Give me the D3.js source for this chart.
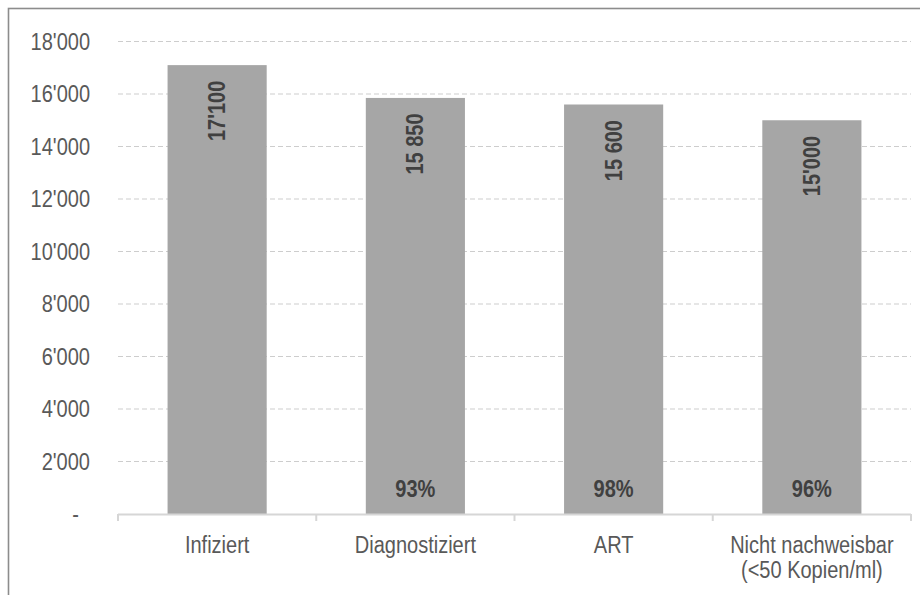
<!DOCTYPE html>
<html>
<head>
<meta charset="utf-8">
<script src="https://cdn.jsdelivr.net/npm/d3@7"></script>
<style>
  html, body { margin: 0; padding: 0; background: #ffffff; }
  svg { display: block; }
  text { font-family: "Liberation Sans", Arial, sans-serif; }
</style>
</head>
<body>
<svg id="chart" width="920" height="595"></svg>
<script>
// ---- data ----
const categories = ["Infiziert", "Diagnostiziert", "ART", "Nicht nachweisbar\n(<50 Kopien/ml)"];
const values = [17100, 15850, 15600, 15000];
const valueLabels = ["17'100", "15 850", "15 600", "15'000"];
const percentLabels = ["", "93%", "98%", "96%"];
const yTicks = [0, 2000, 4000, 6000, 8000, 10000, 12000, 14000, 16000, 18000];
const yTickLabels = ["-", "2'000", "4'000", "6'000", "8'000", "10'000", "12'000", "14'000", "16'000", "18'000"];

// ---- layout ----
const W = 920, H = 595;
const plot = { left: 118, right: 911, top: 41.5, bottom: 514 };
const SX = 0.87;        // horizontal condensing of the font
const FS = 23;

const svg = d3.select("#chart");

// frame (only top and left visible)
svg.append("rect")
  .attr("x", 8.5).attr("y", 8.5)
  .attr("width", W + 10).attr("height", H + 10)
  .attr("fill", "none")
  .attr("stroke", "#8c8c8c")
  .attr("stroke-width", 1.6);

const x = d3.scaleBand()
  .domain(categories)
  .range([plot.left, plot.right])
  .paddingInner(0.5)
  .paddingOuter(0.25);

const y = d3.scaleLinear()
  .domain([0, 18000])
  .range([plot.bottom, plot.top]);

// gridlines
svg.append("g")
  .selectAll("line")
  .data(yTicks.filter(d => d > 0))
  .join("line")
  .attr("x1", plot.left).attr("x2", plot.right)
  .attr("y1", d => y(d)).attr("y2", d => y(d))
  .attr("stroke", "#cdcdcd")
  .attr("stroke-width", 1.2)
  .attr("stroke-dasharray", "5,3");

// y axis labels
const yAxis = svg.append("g")
  .attr("transform", `translate(${plot.left},0)`)
  .call(d3.axisLeft(y).tickValues(yTicks).tickFormat((d, i) => yTickLabels[i]).tickSize(0).tickPadding(0));
yAxis.select(".domain").remove();
yAxis.selectAll(".tick text")
  .attr("x", 0)
  .attr("dy", "0.33em")
  .attr("font-size", FS)
  .attr("font-family", "Liberation Sans, Arial, sans-serif")
  .attr("fill", "#595959")
  .attr("text-anchor", "end")
  .attr("transform", d => `translate(${d === 0 ? -39 : -28},0) scale(${SX},1)`);

// bars
svg.append("g")
  .selectAll("rect")
  .data(values)
  .join("rect")
  .attr("x", (d, i) => x(categories[i]))
  .attr("width", x.bandwidth())
  .attr("y", d => y(d))
  .attr("height", d => y(0) - y(d))
  .attr("fill", "#a6a6a6");

// x axis line and boundary ticks
const xAxisG = svg.append("g");
xAxisG.append("line")
  .attr("x1", plot.left).attr("x2", plot.right)
  .attr("y1", y(0) + 0.5).attr("y2", y(0) + 0.5)
  .attr("stroke", "#d6d6d6").attr("stroke-width", 2);
const boundaries = d3.range(categories.length + 1).map(i => plot.left + i * x.step());
xAxisG.selectAll("line.tk")
  .data(boundaries)
  .join("line")
  .attr("class", "tk")
  .attr("x1", d => d).attr("x2", d => d)
  .attr("y1", y(0)).attr("y2", y(0) + 7)
  .attr("stroke", "#d6d6d6").attr("stroke-width", 2);

// category labels
const catG = svg.append("g");
categories.forEach(c => {
  const cx = x(c) + x.bandwidth() / 2;
  const t = catG.append("text")
    .attr("transform", `translate(${cx},${y(0) + 39}) scale(${SX},1)`)
    .attr("text-anchor", "middle")
    .attr("font-size", FS)
    .attr("fill", "#595959");
  c.split("\n").forEach((line, j) => {
    t.append("tspan").attr("x", 0).attr("dy", j === 0 ? 0 : 25.5).text(line);
  });
});

// value labels (rotated, inside end)
svg.append("g")
  .selectAll("text")
  .data(values)
  .join("text")
  .attr("transform", (d, i) => `translate(${x(categories[i]) + x.bandwidth() / 2},${y(d) + 15.5}) rotate(-90) scale(${SX},1)`)
  .attr("text-anchor", "end")
  .attr("dy", "0.35em")
  .attr("font-size", FS)
  .attr("font-weight", "bold")
  .attr("fill", "#404040")
  .text((d, i) => valueLabels[i]);

// percentage labels
svg.append("g")
  .selectAll("text")
  .data(percentLabels)
  .join("text")
  .attr("transform", (d, i) => `translate(${x(categories[i]) + x.bandwidth() / 2},${y(0) - 17.5}) scale(${SX},1)`)
  .attr("text-anchor", "middle")
  .attr("font-size", FS)
  .attr("font-weight", "bold")
  .attr("fill", "#404040")
  .text(d => d);
</script>
</body>
</html>
